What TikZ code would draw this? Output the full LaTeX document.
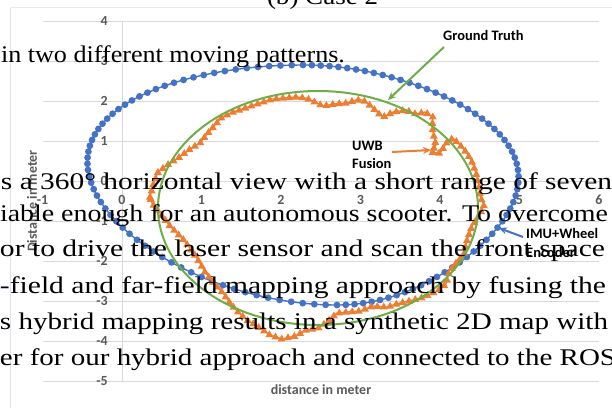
\documentclass[tikz,border=0pt]{standalone}
\usepackage{graphicx}
\usepackage{fontspec}
\setmainfont{Liberation Serif}
\newfontfamily\chartfont{Carlito}
\usetikzlibrary{decorations.markings,arrows.meta}

\definecolor{imublue}{HTML}{4472C4}
\definecolor{uwborange}{HTML}{ED7D31}
\definecolor{truthgreen}{HTML}{70AD47}
\definecolor{gridgray}{HTML}{D9D9D9}
\definecolor{labelgray}{HTML}{595959}
\definecolor{framegray}{HTML}{EBEBEB}
\definecolor{frameblue}{HTML}{DCE4F0}

% stretch one line of body text to a given width, keeping its height
\newcommand\fitline[2]{\resizebox{#1}{\height}{#2}}

\tikzset{
  gridline/.style={draw=gridgray, line width=0.9bp},
  ticklabel/.style={inner sep=0, text=labelgray, font=\chartfont\bfseries\fontsize{14}{14}\selectfont},
  axistitle/.style={inner sep=0, text=labelgray, font=\chartfont\bfseries\fontsize{14}{14}\selectfont},
  annot/.style={inner sep=0, anchor=west, text=black, font=\chartfont\bfseries\fontsize{14.5}{14.5}\selectfont},
  bodytext/.style={anchor=base west, inner sep=0, outer sep=0, text=black, font=\fontsize{24}{24}\selectfont},
  pointer/.style={line width=2bp, -{Stealth[length=8bp,width=7bp]}},
  declare function={
    bx(\t)=303+215*cos(\t)+17*sin(\t)+17*sin(\t)*sin(\t)-45*max(cos(\t),0)*sin(\t)*sin(\t);
    by(\t)=185+120*sin(\t)-15*cos(\t)*cos(\t);
  }
}

\begin{document}
\begin{tikzpicture}[x=1bp, y=-1bp]
\useasboundingbox[fill=white] (0,0) rectangle (612,408);

% chart area frame
\draw[framegray, line width=0.8bp] (10,7.5) -- (612,7.5);
\draw[frameblue, line width=0.8bp] (10,7.5) -- (10,408);

% horizontal grid lines and the vertical axis
\foreach \v in {4,3,...,-5}
  \draw[gridline] (42.5,{181-40*\v}) -- (599,{181-40*\v});
\draw[gridline] (122,21) -- (122,381);

% tick labels
\foreach \v [count=\i] in {4,3,...,-5}
  \node[ticklabel, anchor=east] (ytick\i) at (108,{181-40*\v}) {\v};
\foreach \u [count=\i] in {-1,0,...,6}
  \node[ticklabel] (xtick\i) at ({122+79.5*\u},200) {\u};

% axis titles
\node[axistitle] (xtitle) at (321,390) {distance in meter};
\node[axistitle, rotate=90] (ytitle) at (32,201) {Distance in meter};

% IMU + wheel encoder track
\draw[imublue, line width=1.4bp]
  plot[domain=0:360, samples=121, smooth, variable=\t] ({bx(\t)},{by(\t)});
\foreach \t in {0,3,...,357}
  \fill[imublue] ({bx(\t)},{by(\t)}) circle[radius=3.4bp];

% UWB fusion track
\draw[uwborange, line width=1.3bp, line join=round,
  postaction={decorate, decoration={markings,
    mark=between positions 0 and 1 step 6.5bp with {
      \pgftransformresetnontranslations
      \fill[uwborange] (0bp,4.3bp) -- (-4bp,-2.6bp) -- (4bp,-2.6bp) -- cycle;}}}]
  (150,197) -- (153,185) -- (158,172) -- (167,165) -- (178,158) -- (190,149)
  -- (200,143) -- (207,134) -- (215,125) -- (222,117) -- (233,112) -- (245,108)
  -- (260,103) -- (272,99) -- (284,98) -- (296,97) -- (306,98) -- (315,102)
  -- (323,106) -- (334,104) -- (346,103) -- (356,100) -- (363,100) -- (371,106)
  -- (378,113) -- (383,117) -- (393,112) -- (406,110) -- (416,114) -- (425,112)
  -- (433,117) -- (432,127) -- (434,137) -- (436,145) -- (431,152) -- (440,153)
  -- (447,142) -- (453,138) -- (460,145) -- (467,153) -- (472,162) -- (476,173)
  -- (479,186) -- (480,196) -- (484,205) -- (480,214) -- (472,226) -- (467,240)
  -- (464,254) -- (455,264) -- (449,272) -- (446,284) -- (437,291) -- (424,297)
  -- (413,300) -- (400,303) -- (387,307) -- (373,306) -- (360,311) -- (347,312)
  -- (337,313) -- (327,322) -- (318,328) -- (306,330) -- (295,336) -- (282,339)
  -- (270,335) -- (260,328) -- (247,320) -- (238,312) -- (230,303) -- (223,293)
  -- (213,282) -- (205,272) -- (200,263) -- (193,252) -- (183,239) -- (170,226)
  -- (160,213) -- (152,203) -- cycle;

% ground truth path
\draw[truthgreen, line width=2bp] (318,208) ellipse[x radius=160bp, y radius=117bp];

% series labels and their pointers
\node[annot] (gt) at (443,35) {Ground Truth};
\node[annot] (uwb) at (352,146) {UWB};
\node[annot] (fusion) at (352,163) {Fusion};
\node[annot] (imu) at (526,233) {IMU+Wheel};
\node[annot] (enc) at (526,252) {Encoder};

\coordinate (gtTail) at (444,47);
\coordinate (gtTip) at (388,100);
\coordinate (uwbTail) at (392,152);
\coordinate (uwbTip) at (431,150);
\coordinate (imuTail) at (523,237);
\coordinate (imuTip) at (499,228);
\draw[pointer, truthgreen] (gtTail) -- (gtTip);
\draw[pointer, uwborange] (uwbTail) -- (uwbTip);
\draw[pointer, imublue] (imuTail) -- (imuTip);

% body text set over the figure
\node[bodytext] (caption) at (267,4) {\fitline{111bp}{(b) Case 2}};
\node[bodytext] (line0) at (1,62) {\fitline{344bp}{in two different moving patterns.}};
\node[bodytext] (line1) at (1,189) {\fitline{611bp}{s a 360° horizontal view with a short range of seven}};
\node[bodytext] (line2) at (0,221) {\fitline{608bp}{iable enough for an autonomous scooter. To overcome}};
\node[bodytext] (line3) at (0,256) {\fitline{605bp}{or to drive the laser sensor and scan the front space}};
\node[bodytext] (line4) at (0,293) {\fitline{606bp}{-field and far-field mapping approach by fusing the}};
\node[bodytext] (line5) at (0,329) {\fitline{608bp}{s hybrid mapping results in a synthetic 2D map with}};
\node[bodytext] (line6) at (0,365) {\fitline{616bp}{er for our hybrid approach and connected to the ROS}};
\end{tikzpicture}
\end{document}
